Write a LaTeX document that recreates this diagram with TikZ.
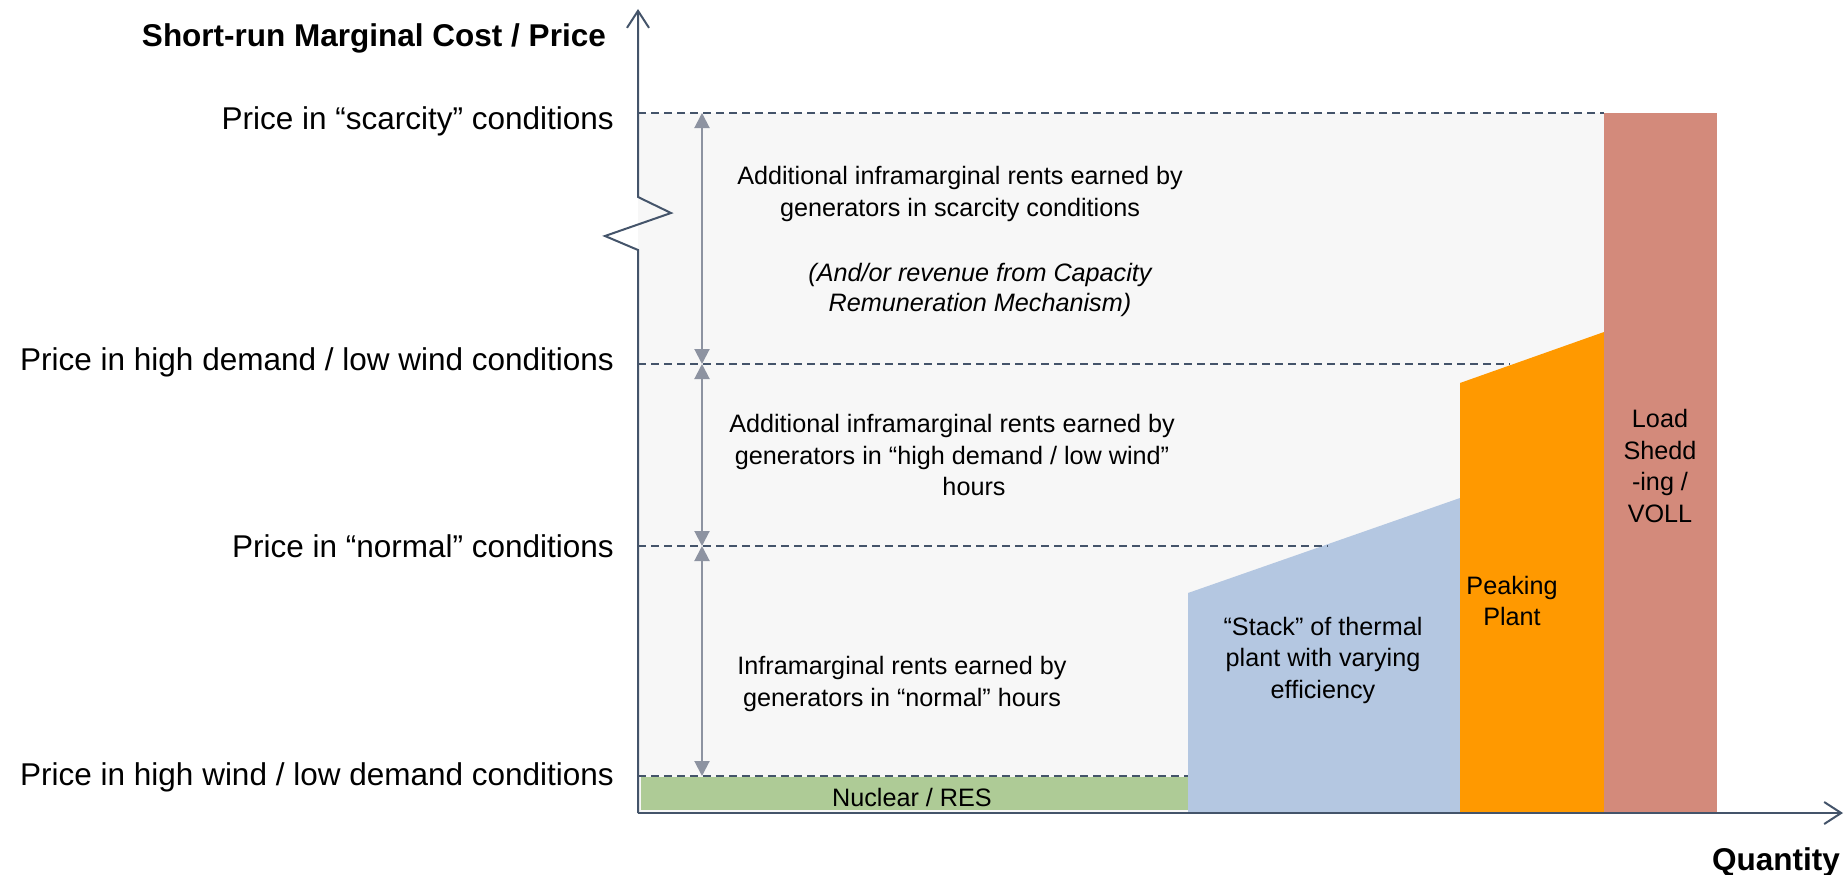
\documentclass[tikz,border=0pt]{standalone}
\usepackage{fontspec}
\setmainfont{Liberation Sans}
\usetikzlibrary{arrows.meta}
\definecolor{axisc}{HTML}{44546A}
\definecolor{arrowc}{HTML}{8D93A1}
\definecolor{bgc}{HTML}{F7F7F7}
\definecolor{nucc}{HTML}{AECB96}
\definecolor{stackc}{HTML}{B4C7E1}
\definecolor{peakc}{HTML}{FF9900}
\definecolor{vollc}{HTML}{D38A7B}
\tikzset{
  axisline/.style={draw=axisc, line width=2pt},
  dashline/.style={draw=axisc, line width=1.8pt, dash pattern=on 8pt off 5pt},
  rentarrow/.style={draw=arrowc, line width=2pt, {Triangle[length=15pt,width=15pt]}-{Triangle[length=15pt,width=15pt]}},
  pricelbl/.style={font=\fontsize{31.5}{36}\selectfont, anchor=east, inner sep=0pt},
  boldlbl/.style={font=\fontsize{31.5}{36}\selectfont\bfseries, inner sep=0pt},
  inner/.style={font=\fontsize{25.2}{31.5}\selectfont, align=center, inner sep=0pt},
  inneri/.style={font=\fontsize{25.2}{30}\selectfont\itshape, align=center, inner sep=0pt},
}
\begin{document}
\begin{tikzpicture}[x=1pt,y=-1pt]
\useasboundingbox (0,0) rectangle (1845,875);
% background rent area
\fill[bgc] (638,113) rectangle (1604,813);
% supply blocks
\fill[nucc] (641,777) rectangle (1188,810);
\fill[stackc] (1188,813) -- (1188,593) -- (1460,498) -- (1460,813) -- cycle;
\fill[peakc] (1460,813) -- (1460,383) -- (1604,332) -- (1604,813) -- cycle;
\fill[vollc] (1604,113) rectangle (1717,813);
% coordinates
\coordinate (O) at (638,813);
\coordinate (Ytop) at (638,9);
\coordinate (Xend) at (1843,813);
\coordinate (z1) at (638,197);
\coordinate (z2) at (671,213);
\coordinate (z3) at (605,236);
\coordinate (z4) at (638,250);
\coordinate (d1s) at (638,113); \coordinate (d1e) at (1604,113);
\coordinate (d2s) at (638,364); \coordinate (d2e) at (1510,364);
\coordinate (d3s) at (638,546); \coordinate (d3e) at (1328,546);
\coordinate (d4s) at (638,776); \coordinate (d4e) at (1188,776);
\coordinate (a1) at (702,113);
\coordinate (a2) at (702,364);
\coordinate (a3) at (702,546);
\coordinate (a4) at (702,776);
% dashed price lines
\draw[dashline] (d1s) -- (d1e);
\draw[dashline] (d2s) -- (d2e);
\draw[dashline] (d3s) -- (d3e);
\draw[dashline] (d4s) -- (d4e);
% rent arrows
\draw[rentarrow] (a1) -- (a2);
\draw[rentarrow] (a2) -- (a3);
\draw[rentarrow] (a3) -- (a4);
% axes
\draw[axisline, line join=miter, -{Straight Barb[length=17pt,width=22pt]}] (O) -- (z4) -- (z3) -- (z2) -- (z1) -- (Ytop);
\draw[axisline, -{Straight Barb[length=17pt,width=22pt]}] (O) -- (Xend);
% axis titles
\node[boldlbl, anchor=east] (ytitle) at (606,38) {Short-run Marginal Cost / Price};
\node[boldlbl, anchor=east] (xtitle) at (1840,862) {Quantity};
% price labels
\node[pricelbl] (p1) at (614,121) {Price in “scarcity” conditions};
\node[pricelbl] (p2) at (614,362) {Price in high demand / low wind conditions};
\node[pricelbl] (p3) at (614,546) {Price in “normal” conditions};
\node[pricelbl] (p4) at (614,777) {Price in high wind / low demand conditions};
% rent texts
\node[inner] (r1) at (960,194) {Additional inframarginal rents earned by\\generators in scarcity conditions};
\node[inneri] (r1i) at (980,290) {(And/or revenue from Capacity\\Remuneration Mechanism)};
\node[inner] (r2) at (952,455) {Additional inframarginal rents earned by\\generators in “high demand / low wind”\\\hspace*{44pt}hours};
\node[inner] (r3) at (902,684) {Inframarginal rents earned by\\generators in “normal” hours};
% block texts
\node[inner] (nuc) at (912,797) {Nuclear / RES};
\node[inner] (stk) at (1323,660) {“Stack” of thermal\\plant with varying\\efficiency};
\node[inner] (pk) at (1512,601) {Peaking\\Plant};
\node[inner] (vl) at (1660,466) {Load\\Shedd\\-ing /\\VOLL};
\end{tikzpicture}
\end{document}
